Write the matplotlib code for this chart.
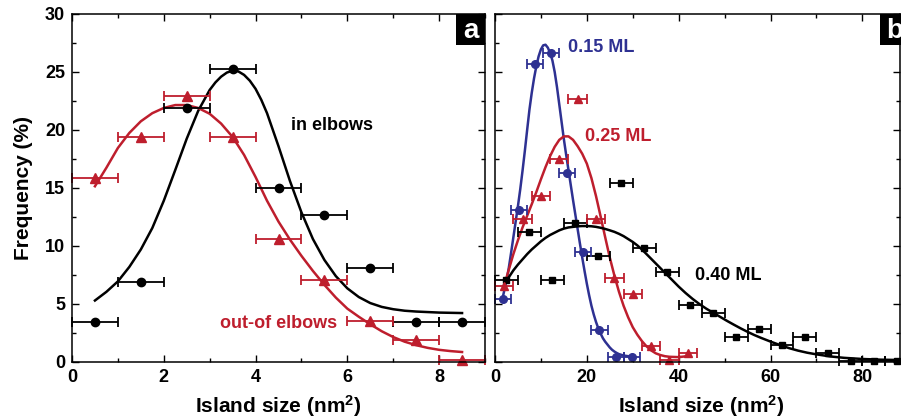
import matplotlib.pyplot as plt
from matplotlib.patches import Rectangle
from matplotlib.ticker import MultipleLocator

plt.rcParams['font.family'] = ['Liberation Sans', 'DejaVu Sans']
plt.rcParams['font.weight'] = 'bold'
plt.rcParams['axes.labelweight'] = 'bold'
plt.rcParams['mathtext.fontset'] = 'custom'
plt.rcParams['mathtext.rm'] = 'Liberation Sans:bold'
plt.rcParams['mathtext.it'] = 'Liberation Sans:bold'
plt.rcParams['mathtext.bf'] = 'Liberation Sans:bold'

RED = '#BE1E2D'
BLUE = '#2E3192'

# ---- panel a: island size distribution in / out of elbows
size_a = [0.5, 1.5, 2.5, 3.5, 4.5, 5.5, 6.5, 7.5, 8.5]
in_elbows = [3.47, 6.92, 21.87, 25.3, 14.97, 12.67, 8.07, 3.47, 3.47]
out_elbows = [15.83, 19.37, 22.93, 19.37, 10.6, 7.07, 3.56, 1.9, 0.15]
err_a = 0.5

# fitted curves
fit_in_x = [0.5, 0.75, 1.0, 1.25, 1.5, 1.75, 2.0, 2.25, 2.5, 2.75, 3.0, 3.125, 3.25, 3.375,
            3.5, 3.625, 3.75, 3.875, 4.0, 4.125, 4.25, 4.5, 4.75, 5.0, 5.25, 5.5, 5.75, 6.0,
            6.25, 6.5, 6.75, 7.0, 7.25, 7.5, 8.0, 8.5]
fit_in_y = [5.3, 6.05, 6.95, 8.2, 9.7, 11.55, 13.9, 16.55, 19.25, 21.65, 23.45, 24.1, 24.6, 24.95,
            25.12, 25.05, 24.75, 24.25, 23.55, 22.6, 21.45, 18.6, 15.6, 12.9, 10.6, 8.8, 7.4, 6.35,
            5.6, 5.08, 4.75, 4.55, 4.42, 4.35, 4.26, 4.22]
fit_out_x = [0.5, 0.75, 1.0, 1.25, 1.5, 1.75, 2.0, 2.25, 2.5, 2.75, 3.0, 3.25, 3.5, 3.75,
             4.0, 4.25, 4.5, 4.75, 5.0, 5.25, 5.5, 5.75, 6.0, 6.25, 6.5, 6.75, 7.0, 7.25,
             7.5, 7.75, 8.0, 8.25, 8.5]
fit_out_y = [15.15, 16.75, 18.45, 19.75, 20.75, 21.45, 21.9, 22.15, 22.15, 21.9, 21.4, 20.55, 19.4, 17.85,
             15.95, 13.9, 12.1, 10.55, 9.15, 7.85, 6.65, 5.55, 4.6, 3.9, 3.25, 2.65, 2.15, 1.75,
             1.45, 1.22, 1.05, 0.94, 0.86]

# ---- panel b: coverage dependence
size_015 = [1.75, 5.25, 8.75, 12.25, 15.75, 19.25, 22.75, 26.25, 29.75]
freq_015 = [5.43, 13.1, 25.7, 26.67, 16.26, 9.51, 2.73, 0.46, 0.46]
err_015 = 1.75
size_025 = [2, 6, 10, 14, 18, 22, 26, 30, 34, 38, 42]
freq_025 = [6.55, 12.3, 14.3, 17.5, 22.67, 12.3, 7.2, 5.9, 1.4, 0.15, 0.75]
err_025 = 2.0
size_040 = [2.5, 7.5, 12.5, 17.5, 22.5, 27.5, 32.5, 37.5, 42.5, 47.5, 52.5, 57.5,
            62.5, 67.5, 72.5, 77.5, 82.5, 87.5]
freq_040 = [7.05, 11.2, 7.03, 11.95, 9.14, 15.43, 9.83, 7.72, 4.94, 4.22, 2.15, 2.83,
            1.47, 2.15, 0.75, 0.1, 0.1, 0.1]
err_040 = 2.5

fit_015_x = [1.7, 2.5, 3.0, 3.5, 4.0, 4.5, 5.0, 5.5, 6.0, 6.5, 7.0, 7.5, 8.0, 8.5, 9.0,
             9.5, 10.0, 10.5, 11.0, 11.5, 12.0, 12.5, 13.0, 13.5, 14.0, 14.5, 15.0, 15.5,
             16.0, 16.5, 17.0, 17.5, 18.0, 18.5, 19.0, 19.5, 20.0, 20.5, 21.0, 21.5, 22.0,
             22.5, 23.0, 23.5, 24.0, 24.5, 25.0, 25.5, 26.0, 26.5, 27.0, 28.0, 29.0, 30.0]
fit_015_y = [5.6, 7.0, 8.1, 9.4, 10.75, 12.1, 13.45, 14.9, 16.5, 18.2, 20.0, 21.75, 23.2, 24.45, 25.5,
             26.35, 26.95, 27.3, 27.35, 27.1, 26.65, 26.0, 25.0, 23.7, 22.2, 20.7, 19.2, 17.85,
             16.55, 15.25, 13.95, 12.7, 11.45, 10.2, 9.0, 7.85, 6.75, 5.75, 4.85, 4.1, 3.45,
             2.9, 2.45, 2.05, 1.75, 1.5, 1.25, 1.05, 0.9, 0.78, 0.68, 0.56, 0.5, 0.48]
fit_025_x = [1.8, 3, 4, 5, 6, 7, 8, 9, 10, 11, 12, 13, 14, 15, 16, 17, 18, 19, 20, 21, 22,
             23, 24, 25, 26, 27, 28, 29, 30, 31, 32, 33, 34, 35, 36, 37, 38, 40, 41.8]
fit_025_y = [6.3, 7.95, 9.3, 10.5, 11.6, 12.6, 13.6, 14.65, 15.75, 16.8, 17.75, 18.55, 19.15,
             19.45, 19.45, 19.15, 18.6, 17.95, 17.1, 15.85, 14.3, 12.55, 10.75, 9.0, 7.45,
             6.05, 4.85, 3.85, 3.0, 2.35, 1.8, 1.35, 1.0, 0.75, 0.6, 0.5, 0.45, 0.42, 0.5]
fit_040_x = [1.9, 3, 4, 5, 6, 7, 8, 9, 10, 11, 12, 13, 14, 15, 16, 17, 18, 19, 20, 21, 22,
             23, 24, 25, 26, 27, 28, 29, 30, 31, 32, 33, 34, 35, 36, 37, 38, 39, 40, 41.5,
             43, 44.5, 46, 47.5, 49, 50.5, 52, 53.5, 55, 56.5, 58, 60, 62, 64, 66, 68, 70,
             73, 76, 80, 84, 88]
fit_040_y = [6.6, 7.3, 7.9, 8.4, 8.85, 9.3, 9.7, 10.05, 10.4, 10.7, 10.95, 11.15, 11.35, 11.5,
             11.6, 11.65, 11.7, 11.72, 11.72, 11.7, 11.65, 11.57, 11.47, 11.35, 11.22, 11.05,
             10.85, 10.6, 10.35, 10.05, 9.7, 9.3, 8.9, 8.5, 8.1, 7.7, 7.3, 6.9, 6.5, 5.95,
             5.45, 5.0, 4.6, 4.25, 3.9, 3.55, 3.22, 2.9, 2.6, 2.32, 2.07, 1.76, 1.47, 1.2,
             0.98, 0.8, 0.66, 0.48, 0.36, 0.26, 0.2, 0.17]

fig = plt.figure(figsize=(9.01, 4.2), dpi=100)
ax_a = fig.add_axes([72 / 901, 58 / 420, 413 / 901, 348 / 420])
ax_b = fig.add_axes([495 / 901, 58 / 420, 405 / 901, 348 / 420])


def style(ax):
    ax.tick_params(which='both', direction='in', top=True, right=True,
                   labelsize=13, width=1.0, pad=5)
    ax.tick_params(which='major', length=5)
    ax.tick_params(which='minor', length=3)
    ax.yaxis.set_major_locator(MultipleLocator(5))
    ax.yaxis.set_minor_locator(MultipleLocator(2.5))
    ax.set_ylim(0, 30)
    for s in ax.spines.values():
        s.set_linewidth(1.1)
    for lab in ax.get_xticklabels() + ax.get_yticklabels():
        lab.set_fontweight('bold')
    ax.set_xlabel(r'Island size (nm$^{2}$)', fontsize=15, fontweight='bold')
    ax.xaxis.set_label_coords(0.5, -0.088)


def panel_tag(ax, letter, x0, w):
    ax.add_patch(Rectangle((x0, 0.912), w, 0.088, transform=ax.transAxes,
                           facecolor='black', edgecolor='none', clip_on=False, zorder=5))
    ax.text(x0 + w / 2, 0.952, letter, transform=ax.transAxes, color='white',
            fontsize=20, ha='center', va='center', zorder=6, clip_on=False)


ebkw = dict(linestyle='none', capsize=3.5, elinewidth=1.3, capthick=1.3, clip_on=False)

# panel a
ax_a.plot(fit_in_x, fit_in_y, color='black', lw=1.8, solid_joinstyle='round')
ax_a.plot(fit_out_x, fit_out_y, color=RED, lw=1.8, solid_joinstyle='round')
ax_a.errorbar(size_a, in_elbows, xerr=err_a, fmt='o', color='black', ms=6, **ebkw)
ax_a.errorbar(size_a, out_elbows, xerr=err_a, fmt='^', color=RED, ms=6.5, **ebkw)
ax_a.text(4.78, 20.4, 'in elbows', fontsize=13, color='black', va='center')
ax_a.text(3.22, 3.3, 'out-of elbows', fontsize=13, color=RED, va='center')
ax_a.set_xlim(0, 9)
ax_a.set_xticks([0, 2, 4, 6, 8])
ax_a.xaxis.set_minor_locator(MultipleLocator(1))
style(ax_a)
ax_a.set_ylabel('Frequency (%)', fontsize=15, fontweight='bold')
ax_a.yaxis.set_label_coords(-0.095, 0.5)
panel_tag(ax_a, 'a', 0.93, 0.07)

# panel b
ax_b.plot(fit_015_x, fit_015_y, color=BLUE, lw=1.8, solid_joinstyle='round')
ax_b.plot(fit_025_x, fit_025_y, color=RED, lw=1.8, solid_joinstyle='round')
ax_b.plot(fit_040_x, fit_040_y, color='black', lw=1.8, solid_joinstyle='round')
ax_b.errorbar(size_040, freq_040, xerr=err_040, fmt='s', color='black', ms=5, **ebkw)
ax_b.errorbar(size_025, freq_025, xerr=err_025, fmt='^', color=RED, ms=6, **ebkw)
ax_b.errorbar(size_015, freq_015, xerr=err_015, fmt='o', color=BLUE, ms=5.5, **ebkw)
ax_b.text(15.9, 27.1, '0.15 ML', fontsize=13, color=BLUE, va='center')
ax_b.text(19.6, 19.4, '0.25 ML', fontsize=13, color=RED, va='center')
ax_b.text(43.6, 7.5, '0.40 ML', fontsize=13, color='black', va='center')
ax_b.set_xlim(0, 88.2)
ax_b.set_xticks([0, 20, 40, 60, 80])
ax_b.xaxis.set_minor_locator(MultipleLocator(10))
style(ax_b)
ax_b.xaxis.set_label_coords(0.51, -0.088)
ax_b.tick_params(labelleft=False)
panel_tag(ax_b, 'b', 0.95, 0.072)

fig.savefig('out.png', dpi=100)
